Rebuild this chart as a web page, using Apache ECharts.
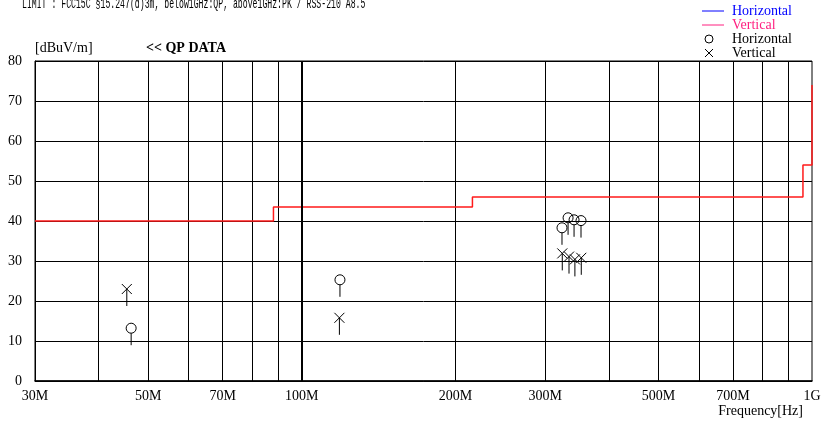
<!DOCTYPE html>
<html>
<head>
<meta charset="utf-8">
<script src="https://cdn.jsdelivr.net/npm/echarts@6/dist/echarts.min.js"></script>
<style>html,body{margin:0;padding:0;background:#fff;}#c{width:824px;height:423px;}</style>
</head>
<body>
<div id="c"></div>
<script>
// ---- data (frequencies in MHz, levels in dBuV/m) ----
const gridFreq = [40, 50, 60, 70, 80, 90, 100, 200, 300, 400, 500, 600, 700, 800, 900];
const labelFreq = [30, 50, 70, 100, 200, 300, 500, 700, 1000];
const labelText = ['30M', '50M', '70M', '100M', '200M', '300M', '500M', '700M', '1G'];
const limitFreq = [30, 88, 88, 216, 216, 960, 960, 1000, 1000];
const limitLevel = [40, 40, 43.5, 43.5, 46, 46, 54, 54, 74];
const hFreq = [46.3, 118.8, 323.6, 332.6, 341.7, 352.6];
const hLevel = [13.2, 25.3, 38.3, 40.8, 40.3, 40.1];
const vFreq = [45.4, 118.5, 324.0, 334.0, 343.0, 353.0];
const vLevel = [23.0, 15.8, 31.9, 31.1, 30.4, 30.8];

const lg = Math.log10;
const serif = '"Liberation Serif", "Times New Roman", serif';
const chart = echarts.init(document.getElementById('c'));

function markerItem(kind) {
  return function (params, api) {
    const p = api.coord([api.value(0), api.value(1)]);
    const st = { stroke: '#000', lineWidth: 1, fill: 'none' };
    const ch = [];
    if (kind === 'o') {
      ch.push({ type: 'circle', shape: { cx: p[0], cy: p[1], r: 5 }, style: st });
      ch.push({ type: 'line', shape: { x1: p[0], y1: p[1] + 5, x2: p[0], y2: p[1] + 17 }, style: st });
    } else {
      const d = 5;
      ch.push({ type: 'line', shape: { x1: p[0] - d, y1: p[1] - d, x2: p[0] + d, y2: p[1] + d }, style: st });
      ch.push({ type: 'line', shape: { x1: p[0] - d, y1: p[1] + d, x2: p[0] + d, y2: p[1] - d }, style: st });
      ch.push({ type: 'line', shape: { x1: p[0], y1: p[1], x2: p[0], y2: p[1] + 17 }, style: st });
    }
    return { type: 'group', children: ch };
  };
}

const option = {
  animation: false,
  backgroundColor: '#fff',
  grid: { left: 35, right: 12, top: 61, bottom: 42, show: true, borderColor: '#000', borderWidth: 1, backgroundColor: 'transparent' },
  xAxis: {
    type: 'value', min: lg(30), max: 3,
    axisLine: { show: true, lineStyle: { color: '#000', width: 1.5 } },
    axisTick: { show: false, customValues: gridFreq.map(lg) },
    splitLine: { show: true, lineStyle: { color: '#000', width: 1 } },
    axisLabel: {
      customValues: labelFreq.map(lg), color: '#000', fontFamily: serif, fontSize: 14, margin: 8,
      formatter: function (v) {
        let best = 0, bd = 1e9;
        labelFreq.forEach((f, i) => { const d = Math.abs(lg(f) - v); if (d < bd) { bd = d; best = i; } });
        return labelText[best];
      }
    }
  },
  yAxis: {
    type: 'value', min: 0, max: 80, interval: 10,
    axisLine: { show: true, lineStyle: { color: '#000', width: 1 } },
    axisTick: { show: false },
    splitLine: { show: true, lineStyle: { color: '#000', width: 1 } },
    axisLabel: { color: '#000', fontFamily: serif, fontSize: 14, margin: 13 }
  },
  series: [
    {
      type: 'line', name: 'limit', symbol: 'none', z: 3,
      data: limitFreq.map((f, i) => [lg(f), limitLevel[i]]),
      lineStyle: { color: '#ff1a1a', width: 1.5 },
      markLine: {
        silent: true, symbol: 'none', label: { show: false },
        lineStyle: { color: '#000', width: 2, type: 'solid' },
        data: [{ xAxis: lg(100) }]
      }
    },
    { type: 'custom', name: 'H', renderItem: markerItem('o'), data: hFreq.map((f, i) => [lg(f), hLevel[i]]), z: 4 },
    { type: 'custom', name: 'V', renderItem: markerItem('x'), data: vFreq.map((f, i) => [lg(f), vLevel[i]]), z: 4 }
  ],
  graphic: [
    { type: 'text', x: 22, y: 12, scaleX: 0.545, style: { text: 'LIMIT : FCC15C §15.247(d)3m, below1GHz:QP, above1GHz:PK / RSS-210 A8.5', fontFamily: '"Liberation Mono", monospace', fontSize: 15, fill: '#000', verticalAlign: 'bottom', textVerticalAlign: 'bottom' } },
    { type: 'text', x: 35, y: 48, style: { text: '[dBuV/m]', fontFamily: serif, fontSize: 14, fill: '#000', verticalAlign: 'middle', textVerticalAlign: 'middle' } },
    { type: 'text', x: 146, y: 48, style: { text: '<< QP DATA', fontFamily: serif, fontSize: 14, fontWeight: 'bold', fill: '#000', verticalAlign: 'middle', textVerticalAlign: 'middle' } },
    { type: 'text', x: 803, y: 411, style: { text: 'Frequency[Hz]', fontFamily: serif, fontSize: 14, fill: '#000', align: 'right', textAlign: 'right', verticalAlign: 'middle', textVerticalAlign: 'middle' } },
    // legend
    { type: 'line', shape: { x1: 702, y1: 11, x2: 724, y2: 11 }, style: { stroke: '#0000ff', lineWidth: 1 } },
    { type: 'text', x: 732, y: 11, style: { text: 'Horizontal', fontFamily: serif, fontSize: 14, fill: '#0000ff', verticalAlign: 'middle', textVerticalAlign: 'middle' } },
    { type: 'line', shape: { x1: 702, y1: 25, x2: 724, y2: 25 }, style: { stroke: '#ff2080', lineWidth: 1 } },
    { type: 'text', x: 732, y: 25, style: { text: 'Vertical', fontFamily: serif, fontSize: 14, fill: '#ff2080', verticalAlign: 'middle', textVerticalAlign: 'middle' } },
    { type: 'circle', shape: { cx: 709, cy: 39, r: 4 }, style: { stroke: '#000', fill: 'none', lineWidth: 1 } },
    { type: 'text', x: 732, y: 39, style: { text: 'Horizontal', fontFamily: serif, fontSize: 14, fill: '#000', verticalAlign: 'middle', textVerticalAlign: 'middle' } },
    { type: 'line', shape: { x1: 705, y1: 49, x2: 713, y2: 57 }, style: { stroke: '#000', lineWidth: 1 } },
    { type: 'line', shape: { x1: 705, y1: 57, x2: 713, y2: 49 }, style: { stroke: '#000', lineWidth: 1 } },
    { type: 'text', x: 732, y: 53, style: { text: 'Vertical', fontFamily: serif, fontSize: 14, fill: '#000', verticalAlign: 'middle', textVerticalAlign: 'middle' } }
  ]
};
chart.setOption(option);
</script>
</body>
</html>
